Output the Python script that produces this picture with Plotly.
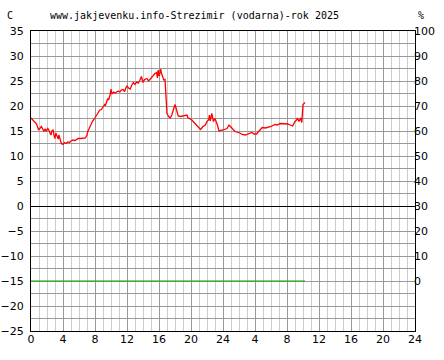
import plotly.graph_objects as go

# hours since start (two days shown: 0..48 h)
hours = [0.0, 0.25, 0.5, 0.7, 0.95, 1.1, 1.3, 1.5, 1.6, 1.8, 1.9, 2.1, 2.2, 2.4, 2.5, 2.6, 2.75, 2.9, 3.0, 3.1,
         3.25, 3.4, 3.5, 3.6, 3.7, 3.8, 4.0, 4.2, 4.4, 4.6, 4.8, 5.0, 5.25, 5.5, 5.75, 5.9, 6.2, 6.5, 6.8, 7.0,
         7.1, 7.3, 7.5, 7.7, 7.95, 8.2, 8.4, 8.6, 8.8, 9.0, 9.2, 9.3, 9.5, 9.6, 9.7, 9.9, 10.0, 10.1, 10.3, 10.5,
         10.7, 10.9, 11.1, 11.3, 11.5, 11.7, 11.9, 12.0, 12.2, 12.4, 12.6, 12.8, 13.0, 13.2, 13.4, 13.6, 13.8, 14.0,
         14.2, 14.5, 14.7, 14.9, 15.1, 15.3, 15.5, 15.7, 15.8, 15.9, 16.0, 16.1, 16.2, 16.3, 16.4, 16.5, 16.6,
         16.75, 16.85, 17.0, 17.2, 17.4, 17.6, 17.8, 18.0, 18.2, 18.4, 18.7, 19.1, 19.5, 19.6, 20.1, 20.5, 20.9,
         21.2, 21.5, 21.8, 22.0, 22.2, 22.3, 22.4, 22.6, 22.7, 22.8, 23.0, 23.2, 23.3, 23.5, 23.8, 24.0, 24.5,
         24.75, 25.1, 25.5, 26.1, 26.4, 26.8, 27.2, 27.6, 27.9, 28.2, 28.5, 28.9, 29.3, 29.6, 30.0, 30.5, 30.8,
         31.1, 31.6, 32.1, 32.4, 32.7, 33.0, 33.2, 33.3, 33.5, 33.7, 33.85, 34.0, 34.25]
temperature = [17.6, 17.2, 16.8, 16.4, 15.2, 15.6, 15.9, 15.3, 15.0, 15.4, 14.9, 15.5, 15.3, 14.5, 14.2, 15.0, 15.2,
               14.0, 13.5, 14.6, 13.9, 13.4, 14.2, 13.2, 13.0, 12.5, 12.3, 12.7, 12.5, 12.8, 12.7, 13.0, 13.2, 13.1,
               13.4, 13.5, 13.5, 13.6, 13.6, 14.2, 14.9, 15.6, 16.5, 17.0, 17.5, 18.2, 18.6, 19.2, 19.3, 19.8, 20.3,
               20.1, 21.0, 21.5, 21.2, 22.3, 23.4, 22.4, 22.8, 22.6, 22.8, 23.0, 22.8, 23.2, 23.3, 22.9, 23.8, 24.0,
               23.6, 23.4, 24.2, 24.7, 24.3, 24.8, 24.6, 25.1, 25.9, 24.7, 25.3, 25.5, 25.0, 25.4, 25.8, 26.2, 26.5,
               26.7, 25.6, 27.2, 26.0, 26.5, 27.4, 26.6, 26.0, 25.3, 25.2, 25.3, 22.0, 18.5, 17.9, 17.6, 18.2, 19.2,
               20.3, 19.2, 18.0, 17.9, 18.0, 18.2, 17.7, 17.2, 16.5, 15.9, 15.3, 15.9, 16.2, 16.9, 17.2, 18.2, 17.0,
               18.5, 17.6, 16.9, 17.5, 16.8, 16.2, 15.0, 15.1, 15.2, 15.5, 16.2, 15.6, 14.9, 14.6, 14.3, 14.2, 14.5,
               14.7, 14.4, 14.4, 15.0, 15.7, 15.6, 15.7, 15.9, 16.3, 16.2, 16.5, 16.5, 16.4, 16.2, 16.0, 16.9, 17.2,
               17.6, 16.9, 17.6, 16.7, 20.3, 20.7]

humidity_hours = [0.0, 34.25]
humidity = [0, 0]

x_tickvals = [0, 4, 8, 12, 16, 20, 24, 28, 32, 36, 40, 44, 48]
x_ticktext = ["0", "4", "8", "12", "16", "20", "24", "4", "8", "12", "16", "20", "24"]
y_tickvals = [35, 30, 25, 20, 15, 10, 5, 0, -5, -10, -15, -20, -25]
y2_tickvals = [0, 10, 20, 30, 40, 50, 60, 70, 80, 90, 100]

fig = go.Figure()
fig.add_trace(go.Scatter(x=humidity_hours, y=humidity, mode="lines", yaxis="y2",
                         line=dict(color="#00aa00", width=1.2), hoverinfo="skip"))
fig.add_trace(go.Scatter(x=hours, y=temperature, mode="lines",
                         line=dict(color="#ff0000", width=1.3)))

tickfont = dict(family="DejaVu Sans", size=11, color="black")
hdrfont = dict(family="DejaVu Sans Mono", size=10, color="black")

FW, FH = 444, 360
L, T, PW, PH = 31, 31, 384, 300
def px(xp):
    return (xp - L) / PW
def py(yp):
    return (T + PH - yp) / PH

fig.update_layout(
    width=FW, height=FH,
    margin=dict(l=L, r=FW - L - PW, t=T, b=FH - T - PH, autoexpand=False),
    paper_bgcolor="white", plot_bgcolor="white",
    showlegend=False,
    xaxis=dict(range=[0, 48], tickvals=x_tickvals, ticktext=x_ticktext, automargin=False,
               showgrid=True, gridcolor="#999999", gridwidth=1,
               minor=dict(dtick=1, tick0=0, showgrid=True, gridcolor="#cccccc", gridwidth=1),
               showline=True, linecolor="black", linewidth=1, mirror=True,
               zeroline=False, ticks="", ticklabelstandoff=-2,
               tickfont=tickfont, fixedrange=True),
    yaxis=dict(range=[-25, 35], tickvals=y_tickvals, automargin=False,
               showgrid=True, gridcolor="#999999", gridwidth=1,
               minor=dict(dtick=2.5, tick0=0, showgrid=True, gridcolor="#999999", gridwidth=1),
               showline=True, linecolor="black", linewidth=1, mirror=True,
               zeroline=True, zerolinecolor="black", zerolinewidth=1,
               ticks="outside", ticklen=4, tickcolor="white",
               tickfont=tickfont, fixedrange=True),
    yaxis2=dict(range=[-20, 100], tickvals=y2_tickvals, overlaying="y", side="right", automargin=False,
                showgrid=False, zeroline=False, showline=False,
                ticks="", ticklabelstandoff=-2, tickfont=tickfont, fixedrange=True),
    annotations=[
        dict(text="C", x=px(10), y=py(15), xref="paper", yref="paper", showarrow=False,
             xanchor="center", yanchor="middle", font=hdrfont),
        dict(text="www.jakjevenku.info-Strezimir (vodarna)-rok 2025", x=px(194), y=py(15),
             xref="paper", yref="paper", showarrow=False,
             xanchor="center", yanchor="middle", font=hdrfont),
        dict(text="%", x=px(421), y=py(15), xref="paper", yref="paper", showarrow=False,
             xanchor="center", yanchor="middle", font=hdrfont),
    ],
)

fig.write_html("out.html", config={"displayModeBar": False, "staticPlot": True},
               post_script="document.body.style.margin='0';document.body.style.overflow='hidden';")
